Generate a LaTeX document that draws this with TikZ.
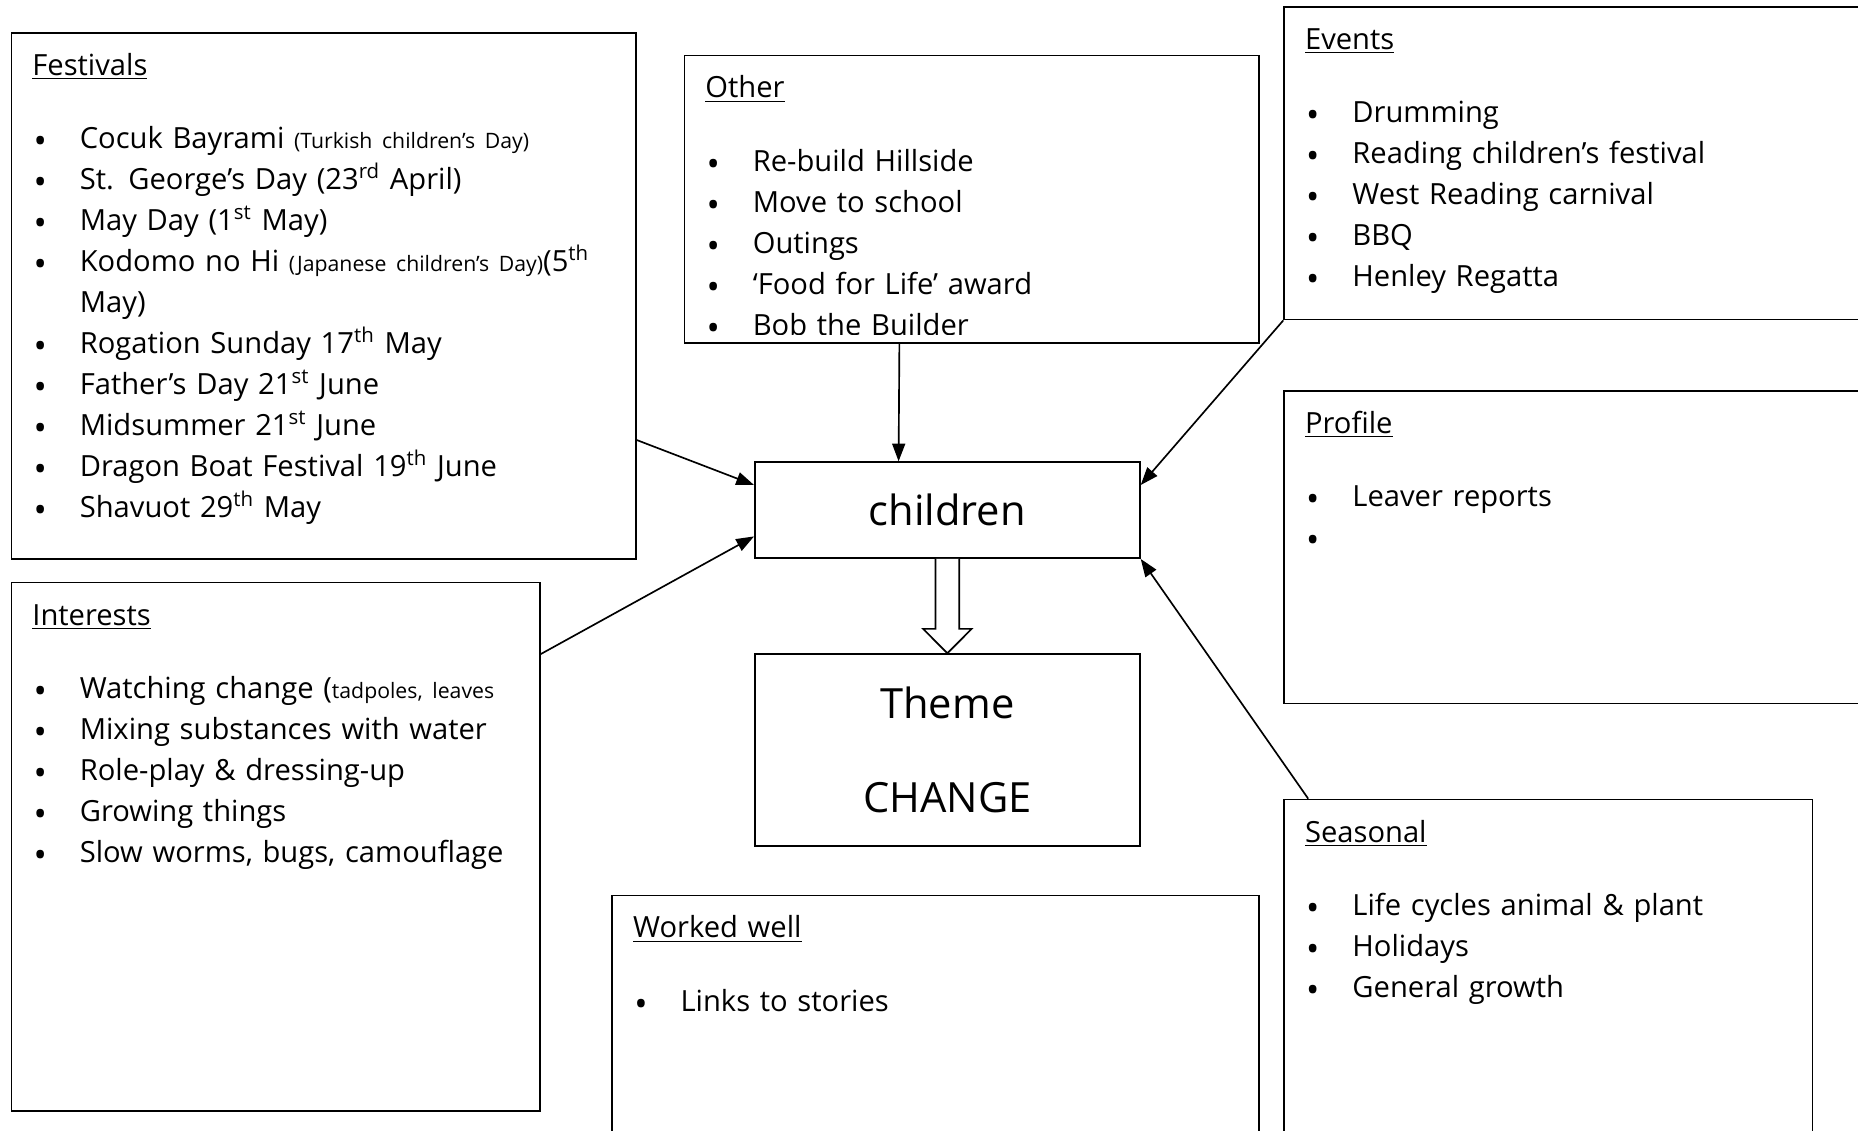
\documentclass[tikz,border=0pt]{standalone}
\usepackage{fontspec}
\setmainfont{Open Sans}
\usetikzlibrary{arrows.meta}

\newcommand{\itm}{\makebox[0.8cm][l]{\hspace{0.02cm}\raisebox{-2.4pt}{\fontsize{17}{0}\selectfont\textbullet}}}
\newcommand{\minor}[1]{{\fontsize{10.2}{10}\selectfont #1}}

\tikzset{
  panel/.style={draw, line width=0.8pt, anchor=north west, inner sep=0pt},
  notes/.style={anchor=north west, inner sep=0pt, align=left, text width=9.8cm,
    font=\fontsize{14}{19.7}\selectfont},
  hub/.style={draw, line width=0.8pt, minimum width=6.5cm, align=center,
    font=\fontsize{20}{45}\selectfont},
  feed/.style={line width=0.8pt, -{Triangle[length=0.3cm,width=0.22cm]}}
}

\begin{document}
\begin{tikzpicture}[x=0.02cm, y=-0.02cm]
  \useasboundingbox (0,0) rectangle (1568,954);
  \clip (0,0) rectangle (1568,954);

  % middle
  \node[hub, minimum height=1.62cm] (children) at (799.5,430.5) {children};
  \node[hub, minimum height=3.24cm] (theme) at (799.5,633) {Theme\\CHANGE};

  % boxes round it
  \node[panel, minimum width=10.54cm, minimum height=8.88cm] (fest) at (9,27) {};
  \node[notes] (festtext) at ([shift={(18,12)}]fest.north west) {\strut\underline{Festivals}\\[15.5pt]
    \itm Cocuk Bayrami \minor{(Turkish children’s Day)}\\
    \itm St. George’s Day (23\textsuperscript{rd} April)\\
    \itm May Day (1\textsuperscript{st} May)\\
    \itm Kodomo no Hi \minor{(Japanese children’s Day)}(5\textsuperscript{th}\\
    \hspace*{0.8cm}May)\\
    \itm Rogation Sunday 17\textsuperscript{th} May\\
    \itm Father’s Day 21\textsuperscript{st} June\\
    \itm Midsummer 21\textsuperscript{st} June\\
    \itm Dragon Boat Festival 19\textsuperscript{th} June\\
    \itm Shavuot 29\textsuperscript{th} May};

  \node[panel, minimum width=9.7cm, minimum height=4.86cm] (other) at (577,46) {};
  \begin{scope}
    \clip (other.north west) rectangle ([shift={(0,-8)}]other.south east);
    \node[notes] (othertext) at ([shift={(18,12)}]other.north west) {\strut\underline{Other}\\[15.5pt]
      \itm Re-build Hillside\\
      \itm Move to school\\
      \itm Outings\\
      \itm ‘Food for Life’ award\\
      \itm Bob the Builder};
  \end{scope}

  \node[panel, minimum width=10.34cm, minimum height=5.28cm] (events) at (1083,5) {};
  \node[notes] (eventstext) at ([shift={(18,12)}]events.north west) {\strut\underline{Events}\\[15.5pt]
    \itm Drumming\\
    \itm Reading children’s festival\\
    \itm West Reading carnival\\
    \itm BBQ\\
    \itm Henley Regatta};

  \node[panel, minimum width=10.34cm, minimum height=5.28cm] (profile) at (1083,329) {};
  \node[notes] (profiletext) at ([shift={(18,12)}]profile.north west) {\strut\underline{Profile}\\[15.5pt]
    \itm Leaver reports\\
    \itm};

  \node[panel, minimum width=8.92cm, minimum height=8.92cm] (interests) at (9,491) {};
  \node[notes] (intereststext) at ([shift={(18,12)}]interests.north west) {\strut\underline{Interests}\\[15.5pt]
    \itm Watching change (\minor{tadpoles, leaves}\\
    \itm Mixing substances with water\\
    \itm Role-play \& dressing-up\\
    \itm Growing things\\
    \itm Slow worms, bugs, camouflage};

  \node[panel, minimum width=8.92cm, minimum height=6.52cm] (seasonal) at (1083,674) {};
  \node[notes] (seasonaltext) at ([shift={(18,12)}]seasonal.north west) {\strut\underline{Seasonal}\\[15.5pt]
    \itm Life cycles animal \& plant\\
    \itm Holidays\\
    \itm General growth};

  \node[panel, minimum width=10.92cm, minimum height=4.9cm] (worked) at (516,755) {};
  \node[notes] (workedtext) at ([shift={(18,12)}]worked.north west) {\strut\underline{Worked well}\\[15.5pt]
    \itm Links to stories};

  % arrows into children
  \draw[feed] ([shift={(182,0)}]other.south west) -- ([shift={(122,0)}]children.north west);
  \draw[feed] ([shift={(0,-101)}]fest.south east) -- ([shift={(0,20)}]children.north west);
  \draw[feed] ([shift={(0,61)}]interests.north east) -- ([shift={(0,-19)}]children.south west);
  \draw[feed] (events.south west) -- ([shift={(0,20)}]children.north east);
  \draw[feed] ([shift={(21,0)}]seasonal.north west) -- (children.south east);

  % hollow arrow down to theme
  \draw[line width=0.8pt, fill=white] ([shift={(-10,0)}]children.south) -- ([shift={(-10,59)}]children.south)
    -- ([shift={(-20.5,59)}]children.south) -- (theme.north) -- ([shift={(20.5,59)}]children.south)
    -- ([shift={(10,59)}]children.south) -- ([shift={(10,0)}]children.south);
\end{tikzpicture}
\end{document}
